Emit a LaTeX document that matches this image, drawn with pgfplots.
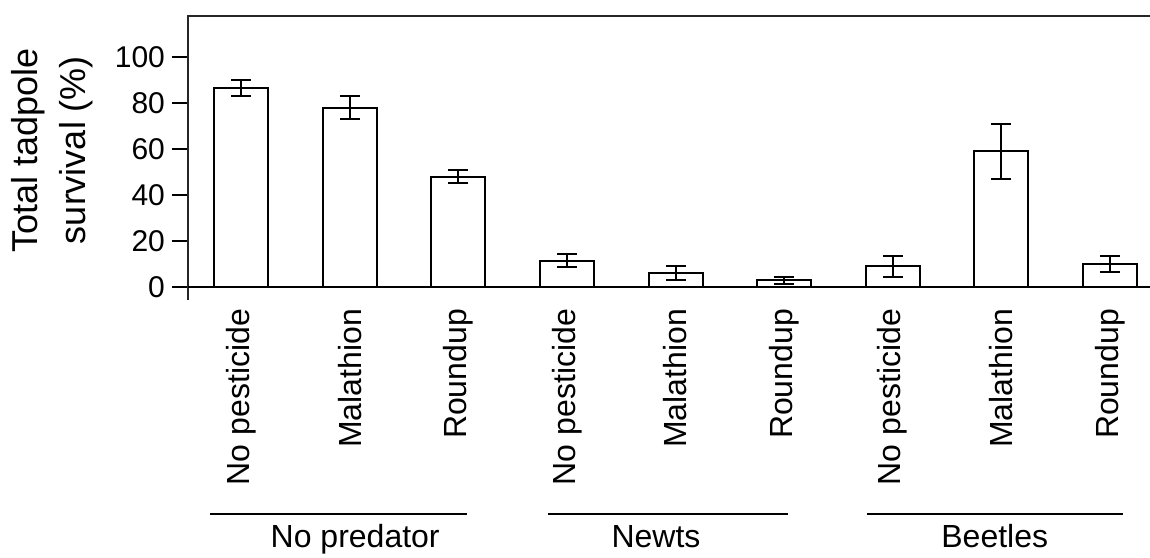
\documentclass[border=0pt]{standalone}
\usepackage{fontspec}
\setmainfont{Liberation Sans}
\usepackage{pgfplots}
\pgfplotsset{compat=1.18}
\begin{document}
\begin{tikzpicture}
\begin{axis}[
  at={(94pt,-8pt)}, anchor=north west,
  scale only axis, width=481pt, height=142pt,
  xmin=-0.49, xmax=8.37, ymin=-5.65, ymax=117.8,
  axis line style={draw=none},
  clip=false,
  ytick={0,20,40,60,80,100},
  tick align=outside,
  major tick length=8pt,
  ytick style={line width=1pt, black},
  /pgf/number format/assume math mode=true,
  yticklabel style={font=\fontsize{15}{15}\selectfont},
  xtick={0,...,8},
  xticklabels={No pesticide, Malathion, Roundup, No pesticide, Malathion, Roundup, No pesticide, Malathion, Roundup},
  xtick style={draw=none},
  xticklabel shift=-7pt,
  xticklabel style={rotate=90, anchor=east, font=\fontsize{16}{16}\selectfont},
  ybar, bar width=27pt,
  ytick pos=left, xtick pos=bottom,
]
\addplot[draw=black, fill=white, line width=1pt,
  error bars/.cd, y dir=both, y explicit,
  error bar style={line width=1pt, black},
  error mark options={rotate=90, mark size=5pt, line width=1pt, black}]
  table[x=x, y=y, y error=e] {
x y e
0 86.5 3.5
1 78 5
2 48 3
3 11.5 3
4 6 3
5 3 1.5
6 9 4.5
7 59 12
8 10 3.5
};
\draw[line width=1pt, black!85] (rel axis cs:0,0) -- (rel axis cs:0,1) -- (rel axis cs:1,1);
\draw[line width=1pt] (axis cs:-0.49,0) -- (axis cs:8.37,0);
\draw[line width=1pt] (axis cs:-0.285,-98.7) -- (axis cs:2.081,-98.7);
\draw[line width=1pt] (axis cs:2.827,-98.7) -- (axis cs:5.037,-98.7);
\draw[line width=1pt] (axis cs:5.764,-98.7) -- (axis cs:8.12,-98.7);
\node[anchor=base, font=\fontsize{16}{16}\selectfont] at (axis cs:1.05,-113.3) {No predator};
\node[anchor=base, font=\fontsize{16}{16}\selectfont] at (axis cs:3.82,-113.3) {Newts};
\node[anchor=base, font=\fontsize{16}{16}\selectfont] at (axis cs:6.94,-113.3) {Beetles};
\end{axis}
\node[rotate=90, align=center, font=\fontsize{18}{24}\selectfont] at (26pt,-75pt) {Total tadpole\\survival (\%)};
\pgfresetboundingbox
\path[use as bounding box] (0,0) rectangle (575pt,-278.5pt);
\end{tikzpicture}
\end{document}
